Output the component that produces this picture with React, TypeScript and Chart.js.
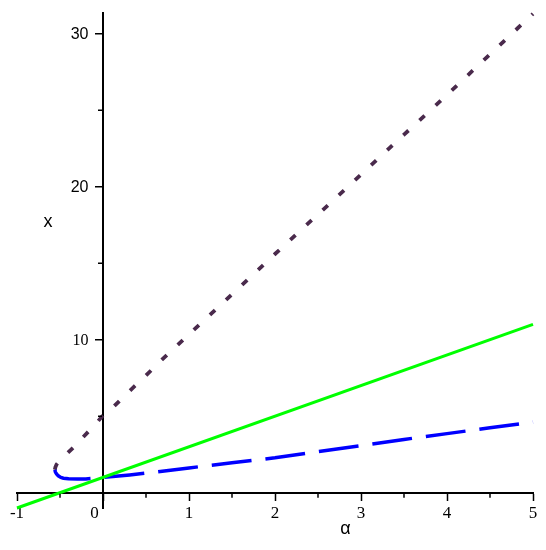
import React, { useEffect, useRef } from "react";
import { Chart, registerables } from "chart.js";
Chart.register(...registerables);

// Green solid line
const greenAlpha = [-1, 5];
const greenX = [-1, 11];

// Blue dashed (lower branch)
const blueAlpha = [-0.56, -0.553, -0.54, -0.52, -0.49, -0.46, -0.4, -0.3, -0.2, -0.1, 0, 0.31, 0.5, 1, 1.5, 2, 2.5, 3, 3.5, 4, 4.5, 5];
const blueX = [1.5, 1.35, 1.22, 1.1, 1.0, 0.95, 0.91, 0.89, 0.9, 0.94, 1.0, 1.16, 1.28, 1.62, 1.95, 2.28, 2.68, 3.08, 3.48, 3.86, 4.24, 4.62];

// Purple dotted (upper branch)
const purpleAlpha = [-0.56, -0.553, -0.54, -0.51, -0.47, -0.41, -0.3, -0.23, -0.1, 0, 0.12, 0.29, 0.48, 0.65, 1, 1.38, 2, 2.83, 3.5, 4, 5];
const purpleX = [1.5, 1.68, 1.85, 2.05, 2.3, 2.6, 3.2, 3.64, 4.4, 5.05, 5.6, 6.55, 7.55, 8.5, 10.35, 12.33, 15.6, 19.9, 23.4, 26.0, 31.3];

// Ticks
const xMajorTicks = [-1, 0, 1, 2, 3, 4, 5];
const xMinorTicks = [-0.5, 0.5, 1.5, 2.5, 3.5, 4.5];
const yMajorTicks = [10, 20, 30];
const yMinorTicks = [5, 15, 25];
const yTickLabels = ["10", "20", "30"];

const xAxisTitle = "α";
const yAxisTitle = "x";

const pts = (a: number[], b: number[]) => a.map((v, i) => ({ x: v, y: b[i] }));

const decorPlugin = {
  id: "decor",
  afterDraw(chart: any) {
    const ctx = chart.ctx;
    const xs = chart.scales.x;
    const ys = chart.scales.y;
    const x0 = xs.getPixelForValue(0);
    const y0 = ys.getPixelForValue(0);
    ctx.save();
    ctx.strokeStyle = "#000";
    ctx.lineWidth = 1.5;
    ctx.beginPath();
    for (const v of xMinorTicks) {
      const p = xs.getPixelForValue(v);
      ctx.moveTo(p, y0 + 1);
      ctx.lineTo(p, y0 + 5);
    }
    for (const v of yMinorTicks) {
      const p = ys.getPixelForValue(v);
      ctx.moveTo(x0 - 1, p);
      ctx.lineTo(x0 - 5, p);
    }
    for (const v of yMajorTicks) {
      const p = ys.getPixelForValue(v);
      ctx.moveTo(x0 - 1, p);
      ctx.lineTo(x0 - 8, p);
    }
    ctx.stroke();
    ctx.fillStyle = "#000";
    ctx.textAlign = "right";
    ctx.textBaseline = "middle";
    yMajorTicks.forEach((v, i) => {
      ctx.font = v === 10 ? '16px "Liberation Serif"' : '16px "Liberation Sans"';
      ctx.fillText(yTickLabels[i], x0 - 14.5, ys.getPixelForValue(v) + 1);
    });
    ctx.font = '18px "Liberation Sans"';
    ctx.textAlign = "center";
    ctx.fillText(xAxisTitle, xs.getPixelForValue(2.82), chart.chartArea.bottom + 21);
    ctx.fillText(yAxisTitle, 48, ys.getPixelForValue(17.7));
    ctx.restore();
  },
};

export default function App() {
  const ref = useRef<HTMLCanvasElement>(null);
  useEffect(() => {
    if (!ref.current) return;
    const chart = new Chart(ref.current, {
      type: "scatter",
      data: {
        datasets: [
          {
            data: pts(greenAlpha, greenX),
            showLine: true,
            borderColor: "#00ff00",
            borderWidth: 3,
            pointRadius: 0,
            clip: false,
          },
          {
            data: pts(blueAlpha, blueX),
            showLine: true,
            borderColor: "#0000ff",
            borderWidth: 3.5,
            borderDash: [40, 14],
            pointRadius: 0,
            clip: false,
          },
          {
            data: pts(purpleAlpha, purpleX),
            showLine: true,
            borderColor: "#4a2a4c",
            borderWidth: 3.8,
            borderDash: [7, 15],
            pointRadius: 0,
            clip: false,
          },
        ] as any,
      },
      options: {
        animation: false,
        responsive: false,
        layout: { padding: { left: 17, right: 13, top: 13, bottom: 42 } },
        plugins: { legend: { display: false }, tooltip: { enabled: false } },
        scales: {
          x: {
            type: "linear",
            position: { y: 0 } as any,
            min: -1,
            max: 5,
            afterBuildTicks: (s: any) => {
              s.ticks = xMajorTicks.map((v) => ({ value: v }));
            },
            grid: {
              drawOnChartArea: false,
              drawTicks: true,
              tickLength: 7,
              tickColor: "#000",
              tickWidth: 1.5,
            },
            border: { display: true, color: "#000", width: 2 },
            ticks: {
              color: "#000",
              padding: 4,
              maxRotation: 0,
              autoSkip: false,
              font: { family: '"Liberation Serif"', size: 17 },
              callback: (v: any) => (Number(v) === 0 ? "0\u2003" : String(v)),
            },
          },
          y: {
            type: "linear",
            position: { x: 0 } as any,
            min: -1,
            max: 31.35,
            afterBuildTicks: (s: any) => {
              s.ticks = yMajorTicks.map((v) => ({ value: v }));
            },
            grid: {
              drawOnChartArea: false,
              drawTicks: false,
            },
            border: { display: true, color: "#000", width: 2 },
            ticks: { display: false },
          },
        },
      },
      plugins: [decorPlugin],
    });
    return () => chart.destroy();
  }, []);
  return (
    <div style={{ position: "absolute", left: 0, top: 0, width: 546, height: 550, background: "#fff" }}>
      <canvas ref={ref} width={546} height={550} style={{ width: 546, height: 550 }} />
    </div>
  );
}
